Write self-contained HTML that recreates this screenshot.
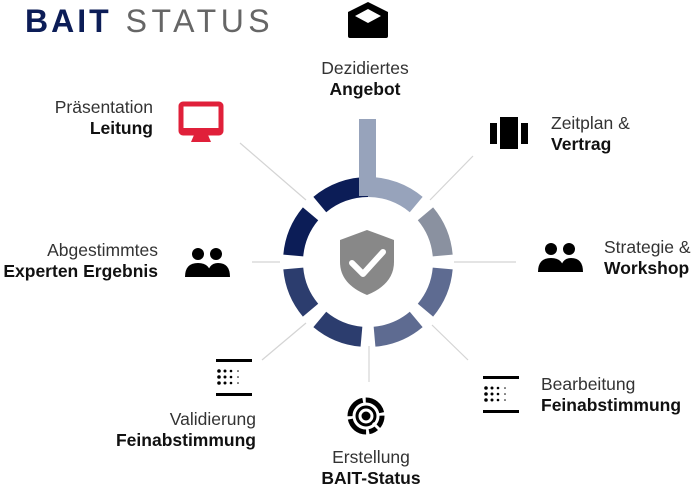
<!DOCTYPE html>
<html><head><meta charset="utf-8"><style>
body{margin:0;width:700px;height:486px;background:#fff;position:relative;overflow:hidden;font-family:"Liberation Sans",sans-serif;color:#222}
.t{position:absolute;font-size:17.5px;line-height:21px;white-space:nowrap;color:#333}
.t b{font-weight:bold;color:#111}
.r{text-align:right}
.c{text-align:center}
</style></head><body>
<div style="position:absolute;left:25px;top:3px;font-size:32px;white-space:nowrap"><b style="color:#0c1d57;letter-spacing:3px">BAIT</b><span style="color:#666;letter-spacing:4.5px;margin-left:14px">STATUS</span></div>

<div class="t c" style="left:295px;top:58px;width:140px">Dezidiertes<br><b>Angebot</b></div>
<div class="t r" style="left:0;top:97px;width:153px">Präsentation<br><b>Leitung</b></div>
<div class="t" style="left:551px;top:113px">Zeitplan &amp;<br><b>Vertrag</b></div>
<div class="t r" style="left:0;top:240px;width:158px">Abgestimmtes<br><b>Experten Ergebnis</b></div>
<div class="t" style="left:604px;top:237px">Strategie &amp;<br><b>Workshop</b></div>
<div class="t" style="left:541px;top:374px">Bearbeitung<br><b>Feinabstimmung</b></div>
<div class="t r" style="left:0;top:409px;width:256px">Validierung<br><b>Feinabstimmung</b></div>
<div class="t c" style="left:301px;top:447px;width:140px">Erstellung<br><b>BAIT-Status</b></div>

<svg width="700" height="486" style="position:absolute;left:0;top:0">
<g stroke="#d4d4d4" stroke-width="1.2">
<line x1="240" y1="143" x2="306" y2="200"/>
<line x1="473" y1="156" x2="430" y2="200"/>
<line x1="252" y1="262" x2="280" y2="262"/>
<line x1="454" y1="262" x2="516" y2="262"/>
<line x1="306" y1="323" x2="262" y2="360"/>
<line x1="432" y1="325" x2="468" y2="360"/>
<line x1="369" y1="346" x2="369" y2="382"/>
</g>
<g fill="none" stroke-width="20" id="ring"></g>
<rect x="359" y="119" width="17" height="77" fill="#97a3bb"/>
<path d="M367 230 L394 240 L394 262 Q394 284 367 295 Q340 284 340 262 L340 240 Z" fill="#888"/>
<path d="M352 263 L363 274 L383 252" fill="none" stroke="#fff" stroke-width="6" stroke-linecap="round" stroke-linejoin="round"/>
<path d="M348 12 L368 2 L388 12 L388 36 Q388 38 386 38 L350 38 Q348 38 348 36 Z" fill="#000"/>
<path d="M355 16 L368 9 L381 16 L368 23 Z" fill="#fff"/>
<rect x="181" y="104" width="40" height="29" rx="2" fill="none" stroke="#e0203a" stroke-width="5"/>
<rect x="181" y="128" width="40" height="7" fill="#e0203a"/>
<path d="M194 135 L208 135 L211 142 L191 142 Z" fill="#e0203a"/>
<rect x="490" y="123" width="7" height="21" fill="#000"/>
<rect x="500" y="117" width="18" height="32" fill="#000"/>
<rect x="521" y="123" width="7" height="21" fill="#000"/>
<g fill="#000">
<circle cx="198" cy="254" r="6"/><circle cx="216" cy="254" r="6"/>
<path d="M185 277 Q185 263 198 263 Q211 263 211 277 Z"/><path d="M207 277 Q208 263 218 263 Q230 263 230 277 Z"/>
<circle cx="551" cy="249" r="6"/><circle cx="569" cy="249" r="6"/>
<path d="M538 272 Q538 258 551 258 Q564 258 564 272 Z"/><path d="M560 272 Q561 258 571 258 Q583 258 583 272 Z"/>
</g>
<g fill="#000">
<rect x="216" y="359" width="36" height="3"/><rect x="216" y="393" width="36" height="3"/>
<g><circle cx="219" cy="371" r="1.8"/><circle cx="225" cy="371" r="1.5"/><circle cx="231" cy="371" r="1.3"/><circle cx="238" cy="371" r="0.8"/></g>
<g transform="translate(0,6)"><circle cx="219" cy="371" r="1.8"/><circle cx="225" cy="371" r="1.5"/><circle cx="231" cy="371" r="1.3"/><circle cx="238" cy="371" r="0.8"/></g>
<g transform="translate(0,12)"><circle cx="219" cy="371" r="1.8"/><circle cx="225" cy="371" r="1.5"/><circle cx="231" cy="371" r="1.3"/><circle cx="238" cy="371" r="0.8"/></g>
<g transform="translate(267,17)">
<rect x="216" y="359" width="36" height="3"/><rect x="216" y="393" width="36" height="3"/>
<circle cx="219" cy="371" r="1.8"/><circle cx="225" cy="371" r="1.5"/><circle cx="231" cy="371" r="1.3"/><circle cx="238" cy="371" r="0.8"/>
<g transform="translate(0,6)"><circle cx="219" cy="371" r="1.8"/><circle cx="225" cy="371" r="1.5"/><circle cx="231" cy="371" r="1.3"/><circle cx="238" cy="371" r="0.8"/></g>
<g transform="translate(0,12)"><circle cx="219" cy="371" r="1.8"/><circle cx="225" cy="371" r="1.5"/><circle cx="231" cy="371" r="1.3"/><circle cx="238" cy="371" r="0.8"/></g>
</g>
</g>
<circle cx="366" cy="416" r="16" fill="none" stroke="#000" stroke-width="5" stroke-dasharray="22 3"/>
<circle cx="366" cy="416" r="9" fill="none" stroke="#000" stroke-width="3"/>
<circle cx="366" cy="416" r="4.5" fill="#000"/>
<line x1="373" y1="423" x2="381" y2="431" stroke="#fff" stroke-width="3"/>
</svg>
<script>
var cx=368,cy=262,r=75;
var cols=["#97a3bb","#8a91a0","#5e6b91","#5e6b91","#2c3d6e","#2c3d6e","#0c1d57","#0c1d57"];
function pt(a){a=(a-90)*Math.PI/180;return [cx+r*Math.cos(a),cy+r*Math.sin(a)];}
var g=document.getElementById('ring'),s='';
for(var k=0;k<8;k++){
 var a1=k*45+(k==0?0:5),a2=k*45+45-(k==7?0:5);
 var p1=pt(a1),p2=pt(a2);
 s+='<path stroke="'+cols[k]+'" d="M'+p1[0]+' '+p1[1]+' A'+r+' '+r+' 0 0 1 '+p2[0]+' '+p2[1]+'"/>';
}
g.innerHTML=s;
</script>
</body></html>
